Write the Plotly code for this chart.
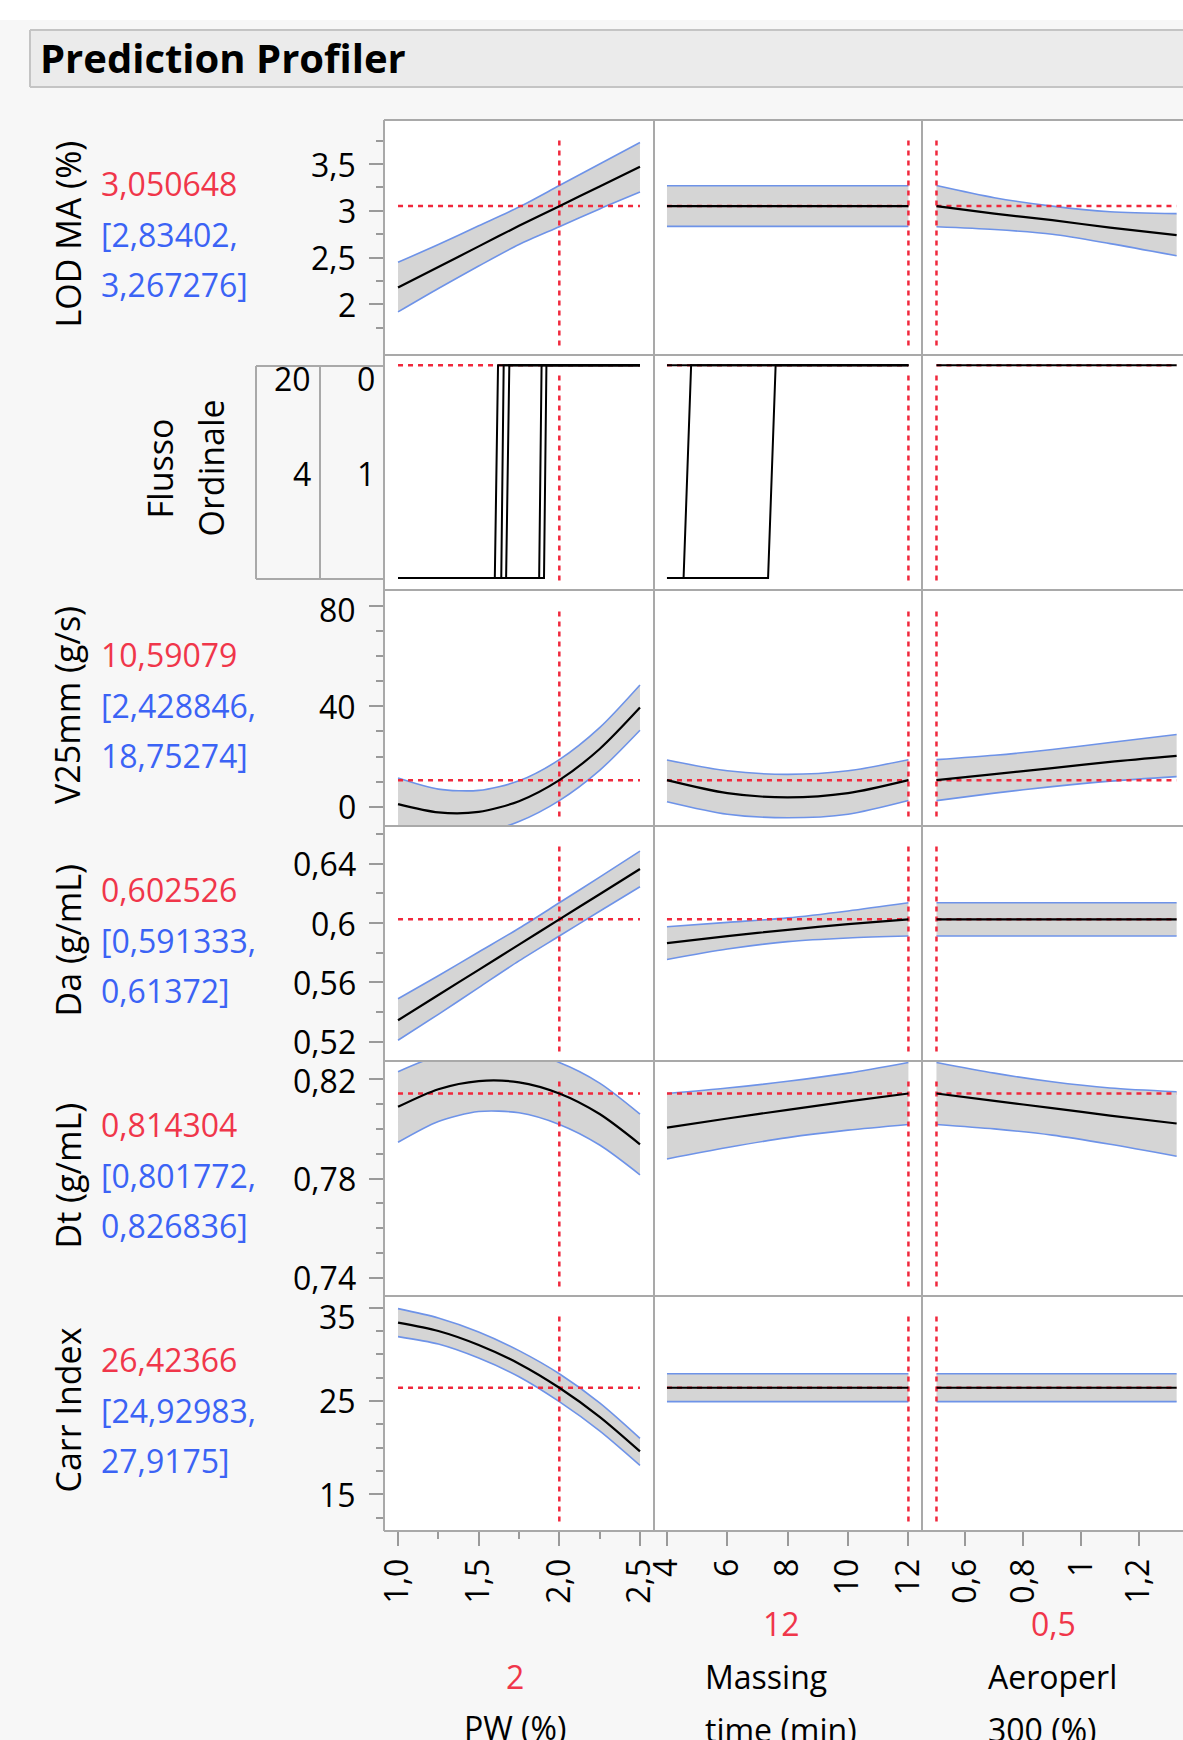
import plotly.graph_objects as go

W, H = 1183, 1740

# ---------------- data ----------------
factor_names = [["PW (%)"], ["Massing", "time (min)"], ["Aeroperl", "300 (%)"]]
factor_current_text = ["2", "12", "0,5"]
factor_current = [2.0, 12.0, 0.5]

pw_x = [1.0, 1.25, 1.5, 1.75, 2.0, 2.25, 2.5]
mt_x = [4, 6, 8, 10, 12]
ae_x = [0.5, 0.7, 0.9, 1.1, 1.33]

pw_tickvals = [1.0, 1.5, 2.0, 2.5]
pw_ticktext = ["1,0", "1,5", "2,0", "2,5"]
pw_minor = [1.25, 1.75, 2.25]
mt_tickvals = [4, 6, 8, 10, 12]
mt_ticktext = ["4", "6", "8", "10", "12"]
ae_tickvals = [0.6, 0.8, 1.0, 1.2]
ae_ticktext = ["0,6", "0,8", "1", "1,2"]

response_names = ["LOD MA (%)", "Flusso Ordinale", "V25mm (g/s)", "Da (g/mL)", "Dt (g/mL)", "Carr Index"]
pred_text = ["3,050648", "", "10,59079", "0,602526", "0,814304", "26,42366"]
ci_low_text = ["[2,83402,", "", "[2,428846,", "[0,591333,", "[0,801772,", "[24,92983,"]
ci_high_text = ["3,267276]", "", "18,75274]", "0,61372]", "0,826836]", "27,9175]"]
pred_value = [3.050648, 1.0, 10.59079, 0.602526, 0.814304, 26.42366]

# LOD MA (%)
lod_pw_mean = [2.18, 2.40, 2.62, 2.84, 3.05, 3.26, 3.47]
lod_pw_lo = [1.92, 2.17, 2.41, 2.64, 2.83, 3.02, 3.20]
lod_pw_hi = [2.45, 2.64, 2.84, 3.04, 3.27, 3.50, 3.73]
lod_mt_mean = [3.05, 3.05, 3.05, 3.05, 3.05]
lod_mt_lo = [2.834, 2.834, 2.834, 2.834, 2.834]
lod_mt_hi = [3.267, 3.267, 3.267, 3.267, 3.267]
lod_ae_mean = [3.05, 2.97, 2.90, 2.82, 2.74]
lod_ae_lo = [2.83, 2.80, 2.75, 2.65, 2.52]
lod_ae_hi = [3.27, 3.14, 3.05, 2.99, 2.97]
lod_ticks = [2, 2.5, 3, 3.5]
lod_ticktext = ["2", "2,5", "3", "3,5"]
lod_minor = [1.75, 2.25, 2.75, 3.25, 3.75]

# Flusso Ordinale (cumulative probability step curves)
flusso_pw_curves_x = [[1.0, 1.60, 1.62, 2.5], [1.0, 1.64, 1.655, 2.5], [1.0, 1.67, 1.69, 2.5],
                      [1.0, 1.875, 1.89, 2.5], [1.0, 1.905, 1.92, 2.5]]
flusso_mt_curves_x = [[4, 12], [4, 4.55, 4.8, 12], [4, 7.35, 7.6, 12]]
flusso_ae_curves_x = [[0.5, 1.33]]
flusso_step_y = [0, 0, 1, 1]
flusso_flat_y = [1, 1]
flusso_levels_left = ["20", "4"]
flusso_levels_right = ["0", "1"]

# V25mm (g/s)
v25_pw_mean = [1.0, -2.3, -2.1, 2.2, 10.6, 23.0, 39.5]
v25_pw_lo = [-8.9, -11.6, -10.7, -5.9, 2.43, 14.5, 30.5]
v25_pw_hi = [11.4, 7.0, 6.5, 10.3, 18.75, 31.5, 48.5]
v25_mt_mean = [10.6, 5.4, 3.7, 5.4, 10.59]
v25_mt_lo = [2.0, -3.0, -4.4, -3.0, 2.43]
v25_mt_hi = [18.6, 14.3, 12.9, 14.3, 18.75]
v25_ae_mean = [10.59, 13.0, 15.4, 17.9, 20.3]
v25_ae_lo = [2.43, 5.4, 8.0, 10.2, 12.0]
v25_ae_hi = [18.75, 20.5, 22.8, 25.6, 28.8]
v25_ticks = [0, 40, 80]
v25_ticktext = ["0", "40", "80"]
v25_minor = [10, 20, 30, 50, 60, 70]

# Da (g/mL)
da_pw_mean = [0.5345, 0.5515, 0.5685, 0.5855, 0.6025, 0.6195, 0.6365]
da_pw_lo = [0.521, 0.5385, 0.5565, 0.5745, 0.5913, 0.608, 0.6245]
da_pw_hi = [0.549, 0.5645, 0.5805, 0.5965, 0.6137, 0.631, 0.6486]
da_mt_mean = [0.5865, 0.5912, 0.5955, 0.5993, 0.6025]
da_mt_lo = [0.5755, 0.5825, 0.5875, 0.5900, 0.5913]
da_mt_hi = [0.5975, 0.6005, 0.6035, 0.6082, 0.6137]
da_ae_mean = [0.6025, 0.6025, 0.6025, 0.6025, 0.6025]
da_ae_lo = [0.5913, 0.5913, 0.5913, 0.5913, 0.5913]
da_ae_hi = [0.6137, 0.6137, 0.6137, 0.6137, 0.6137]
da_ticks = [0.52, 0.56, 0.60, 0.64]
da_ticktext = ["0,52", "0,56", "0,6", "0,64"]
da_minor = [0.54, 0.58, 0.62, 0.66]

# Dt (g/mL)
dt_pw_mean = [0.8089, 0.8160, 0.8193, 0.8188, 0.8143, 0.8060, 0.7938]
dt_pw_lo = [0.7946, 0.8030, 0.8070, 0.8065, 0.8018, 0.7935, 0.7815]
dt_pw_hi = [0.8231, 0.8295, 0.8320, 0.8315, 0.8268, 0.8185, 0.8060]
dt_mt_mean = [0.8005, 0.8042, 0.8077, 0.8111, 0.8143]
dt_mt_lo = [0.7879, 0.7925, 0.7965, 0.7995, 0.8018]
dt_mt_hi = [0.8143, 0.8165, 0.8192, 0.8225, 0.8268]
dt_ae_mean = [0.8143, 0.8113, 0.8084, 0.8054, 0.8022]
dt_ae_lo = [0.8018, 0.8000, 0.7975, 0.7938, 0.7890]
dt_ae_hi = [0.8268, 0.8225, 0.8190, 0.8165, 0.8150]
dt_ticks = [0.74, 0.78, 0.82]
dt_ticktext = ["0,74", "0,78", "0,82"]
dt_minor = [0.75, 0.76, 0.77, 0.79, 0.80, 0.81]

# Carr Index
carr_pw_mean = [33.4, 32.5, 31.0, 29.0, 26.42, 23.3, 19.6]
carr_pw_lo = [31.9, 31.1, 29.6, 27.6, 24.93, 21.8, 18.1]
carr_pw_hi = [34.9, 33.9, 32.4, 30.4, 27.92, 24.8, 21.0]
carr_mt_mean = [26.42, 26.42, 26.42, 26.42, 26.42]
carr_mt_lo = [24.93, 24.93, 24.93, 24.93, 24.93]
carr_mt_hi = [27.92, 27.92, 27.92, 27.92, 27.92]
carr_ae_mean = [26.42, 26.42, 26.42, 26.42, 26.42]
carr_ae_lo = [24.93, 24.93, 24.93, 24.93, 24.93]
carr_ae_hi = [27.92, 27.92, 27.92, 27.92, 27.92]
carr_ticks = [15, 25, 35]
carr_ticktext = ["15", "25", "35"]
carr_minor = [12.5, 17.5, 20, 22.5, 27.5, 30, 32.5]

# ---------------- layout geometry (pixels) ----------------
col_edges = [384, 654, 922, 1183]
row_edges = [120, 355, 590, 826, 1061, 1296, 1531]
x_ranges = [[0.913, 2.587], [3.57, 12.45], [0.45, 1.352]]
y_ranges = [[1.46, 3.97], [-0.056, 1.048], [-7.7, 86.4], [0.507, 0.6655], [0.7326, 0.8274], [11.07, 36.25]]

FONT = "Open Sans"
FS = 32
RED_TXT = "#f0364a"
BLUE_TXT = "#3b63f5"
RED_LINE = "#f0283c"
BAND_FILL = "#d5d5d5"
BAND_EDGE = "#6e93e8"
FRAME = "#a9a9a9"
TICK = "#9a9a9a"


def px(x):
    return x / W


def py(y):
    return 1 - y / H


xs = [pw_x, mt_x, ae_x]
bands = [
    [(lod_pw_lo, lod_pw_hi, lod_pw_mean), (lod_mt_lo, lod_mt_hi, lod_mt_mean), (lod_ae_lo, lod_ae_hi, lod_ae_mean)],
    None,
    [(v25_pw_lo, v25_pw_hi, v25_pw_mean), (v25_mt_lo, v25_mt_hi, v25_mt_mean), (v25_ae_lo, v25_ae_hi, v25_ae_mean)],
    [(da_pw_lo, da_pw_hi, da_pw_mean), (da_mt_lo, da_mt_hi, da_mt_mean), (da_ae_lo, da_ae_hi, da_ae_mean)],
    [(dt_pw_lo, dt_pw_hi, dt_pw_mean), (dt_mt_lo, dt_mt_hi, dt_mt_mean), (dt_ae_lo, dt_ae_hi, dt_ae_mean)],
    [(carr_pw_lo, carr_pw_hi, carr_pw_mean), (carr_mt_lo, carr_mt_hi, carr_mt_mean), (carr_ae_lo, carr_ae_hi, carr_ae_mean)],
]
flusso_curves = [flusso_pw_curves_x, flusso_mt_curves_x, flusso_ae_curves_x]
y_tick_info = [
    (lod_ticks, lod_ticktext, lod_minor), None, (v25_ticks, v25_ticktext, v25_minor),
    (da_ticks, da_ticktext, da_minor), (dt_ticks, dt_ticktext, dt_minor), (carr_ticks, carr_ticktext, carr_minor),
]
x_tick_info = [(pw_tickvals, pw_ticktext, pw_minor), (mt_tickvals, mt_ticktext, []), (ae_tickvals, ae_ticktext, [])]

fig = go.Figure()
layout = {}
ann = []


def text(x, y, s, color="black", size=FS, xanchor="center", angle=0, bold=False):
    ann.append(dict(x=px(x), y=py(y), xref="paper", yref="paper", text=("<b>%s</b>" % s) if bold else s,
                    showarrow=False, xanchor=xanchor, yanchor="middle", textangle=angle,
                    font=dict(family=FONT, size=size, color=color)))


for r in range(6):
    for c in range(3):
        k = r * 3 + c + 1
        sfx = "" if k == 1 else str(k)
        xa, ya = "x" + sfx, "y" + sfx
        x_dom = [px(col_edges[c]), px(col_edges[c + 1])]
        y_dom = [py(row_edges[r + 1]), py(row_edges[r])]
        xcfg = dict(domain=x_dom, range=x_ranges[c], anchor=ya, showgrid=False, zeroline=False,
                    showline=False, fixedrange=True, automargin=False)
        ycfg = dict(domain=y_dom, range=y_ranges[r], anchor=xa, showgrid=False, zeroline=False,
                    showline=False, fixedrange=True, automargin=False)
        if r == 5:
            tv, tt, mn = x_tick_info[c]
            xcfg.update(ticks="outside", ticklen=14, tickwidth=1.5, tickcolor=TICK, tickvals=tv,
                        ticktext=tt, tickangle=-90, tickfont=dict(size=FS, color="black", family=FONT),
                        ticklabelstandoff=0)
            if mn:
                xcfg["minor"] = dict(tickvals=mn, ticks="outside", ticklen=7, tickwidth=1.5,
                                     tickcolor=TICK, showgrid=False)
        else:
            xcfg.update(showticklabels=False, ticks="")
        if c == 0 and y_tick_info[r] is not None:
            tv, tt, mn = y_tick_info[r]
            ycfg.update(ticks="outside", ticklen=14, tickwidth=1.5, tickcolor=TICK, tickvals=tv,
                        showticklabels=False,
                        minor=dict(tickvals=mn, ticks="outside", ticklen=7, tickwidth=1.5,
                                   tickcolor=TICK, showgrid=False))
            # tick labels placed through the axis scale, nudged inside the row when near its top
            y0, y1 = y_ranges[r]
            top = row_edges[r]
            hgt = row_edges[r + 1] - row_edges[r]
            for v, lab in zip(tv, tt):
                p = top + (y1 - v) / (y1 - y0) * hgt
                shift = -max(0.0, (top + 20) - p)
                ann.append(dict(x=px(358), y=v, xref="paper", yref=ya, text=lab, showarrow=False,
                                xanchor="right", yanchor="middle", yshift=shift,
                                font=dict(family=FONT, size=FS, color="black")))
        else:
            ycfg.update(showticklabels=False, ticks="")
        layout["xaxis" + sfx] = xcfg
        layout["yaxis" + sfx] = ycfg

        x = xs[c]
        y0, y1 = y_ranges[r]
        span = y1 - y0
        vy = [y0 + 0.04 * span, y0 + 0.93 * span]
        red = dict(color=RED_LINE, width=2.5, dash="5px,5px")
        if r == 1:
            fig.add_trace(go.Scatter(x=[x[0], x[-1]], y=[pred_value[r]] * 2, xaxis=xa, yaxis=ya, mode="lines",
                                     line=red, hoverinfo="skip"))
            fig.add_trace(go.Scatter(x=[factor_current[c]] * 2, y=vy, xaxis=xa, yaxis=ya, mode="lines",
                                     line=red, hoverinfo="skip"))
            for cx in flusso_curves[c]:
                cy = flusso_step_y if len(cx) == 4 else flusso_flat_y
                fig.add_trace(go.Scatter(x=cx, y=cy, xaxis=xa, yaxis=ya, mode="lines",
                                         line=dict(color="black", width=2), hoverinfo="skip"))
            continue
        lo, hi, mean = bands[r][c]
        fig.add_trace(go.Scatter(x=x, y=lo, xaxis=xa, yaxis=ya, mode="lines",
                                 line=dict(color=BAND_EDGE, width=1.6, shape="spline", smoothing=0.8),
                                 hoverinfo="skip"))
        fig.add_trace(go.Scatter(x=x, y=hi, xaxis=xa, yaxis=ya, mode="lines", fill="tonexty",
                                 fillcolor=BAND_FILL,
                                 line=dict(color=BAND_EDGE, width=1.6, shape="spline", smoothing=0.8),
                                 hoverinfo="skip"))
        fig.add_trace(go.Scatter(x=[x[0], x[-1]], y=[pred_value[r]] * 2, xaxis=xa, yaxis=ya, mode="lines",
                                 line=red, hoverinfo="skip"))
        fig.add_trace(go.Scatter(x=[factor_current[c]] * 2, y=vy, xaxis=xa, yaxis=ya, mode="lines",
                                 line=red, hoverinfo="skip"))
        fig.add_trace(go.Scatter(x=x, y=mean, xaxis=xa, yaxis=ya, mode="lines",
                                 line=dict(color="black", width=2.2, shape="spline", smoothing=0.8),
                                 hoverinfo="skip"))

shapes = []
# top white strip and title box (box runs off the right edge, as in the original window)
shapes.append(dict(type="rect", xref="paper", yref="paper", x0=0, x1=1, y0=py(20), y1=1,
                   fillcolor="white", line=dict(width=0), layer="below"))
shapes.append(dict(type="rect", xref="paper", yref="paper", x0=px(30), x1=1, y0=py(87), y1=py(30),
                   fillcolor="#ebebeb", line=dict(width=0), layer="below"))
for (a, b, c2, d) in [(30, 30, W, 30), (30, 87, W, 87), (30, 30, 30, 87)]:
    shapes.append(dict(type="line", xref="paper", yref="paper", x0=px(a), y0=py(b), x1=px(c2), y1=py(d),
                       line=dict(color="#c4c4c4", width=2)))
# frames
for ry in row_edges:
    shapes.append(dict(type="line", xref="paper", yref="paper", x0=px(col_edges[0]), x1=1,
                       y0=py(ry), y1=py(ry), line=dict(color=FRAME, width=2)))
for cx in col_edges[:3]:
    shapes.append(dict(type="line", xref="paper", yref="paper", x0=px(cx), x1=px(cx),
                       y0=py(row_edges[0]), y1=py(row_edges[-1]), line=dict(color=FRAME, width=2)))
# ordinal level box for Flusso
box_l, box_m, box_r, box_t, box_b = 256, 320, 384, 366, 579
for (a, b, c2, d) in [(box_l, box_t, box_r, box_t), (box_l, box_b, box_r, box_b),
                      (box_l, box_t, box_l, box_b), (box_m, box_t, box_m, box_b)]:
    shapes.append(dict(type="line", xref="paper", yref="paper", x0=px(a), y0=py(b), x1=px(c2), y1=py(d),
                       line=dict(color=FRAME, width=2)))

text(38, 58, "Prediction Profiler", size=40, xanchor="left", bold=True)

row_centers = [(row_edges[i] + row_edges[i + 1]) / 2 for i in range(6)]
for r in range(6):
    rc = row_centers[r]
    if r == 1:
        parts = response_names[r].split(" ")
        text(160, rc - 4, parts[0], size=34, angle=-90)
        text(211, rc - 4, parts[1], size=34, angle=-90)
        text(313, 379, flusso_levels_left[0], xanchor="right")
        text(313, 473, flusso_levels_left[1], xanchor="right")
        text(377, 379, flusso_levels_right[0], xanchor="right")
        text(377, 473, flusso_levels_right[1], xanchor="right")
        continue
    text(67, rc - 3, response_names[r], size=34, angle=-90)
    text(99, rc - 54, pred_text[r], color=RED_TXT, xanchor="left")
    text(99, rc - 3, ci_low_text[r], color=BLUE_TXT, xanchor="left")
    text(99, rc + 47, ci_high_text[r], color=BLUE_TXT, xanchor="left")

# factor labels under the columns
text(515, 1676, factor_current_text[0], color=RED_TXT)
text(515, 1727, factor_names[0][0])
text(781, 1623, factor_current_text[1], color=RED_TXT)
text(703, 1676, factor_names[1][0], xanchor="left")
text(703, 1729, factor_names[1][1], xanchor="left")
text(1053, 1623, factor_current_text[2], color=RED_TXT)
text(986, 1676, factor_names[2][0], xanchor="left")
text(986, 1729, factor_names[2][1], xanchor="left")

layout.update(width=W, height=H, autosize=False, margin=dict(l=0, r=0, t=0, b=0, autoexpand=False),
              paper_bgcolor="#f7f7f7", plot_bgcolor="white", showlegend=False, shapes=shapes,
              annotations=ann, font=dict(family=FONT, size=FS, color="black"))
fig.update_layout(**layout)
fig.write_html("out.html", config={"displayModeBar": False, "responsive": False},
               post_script="document.body.style.margin='0px';document.body.style.overflow='hidden';")
